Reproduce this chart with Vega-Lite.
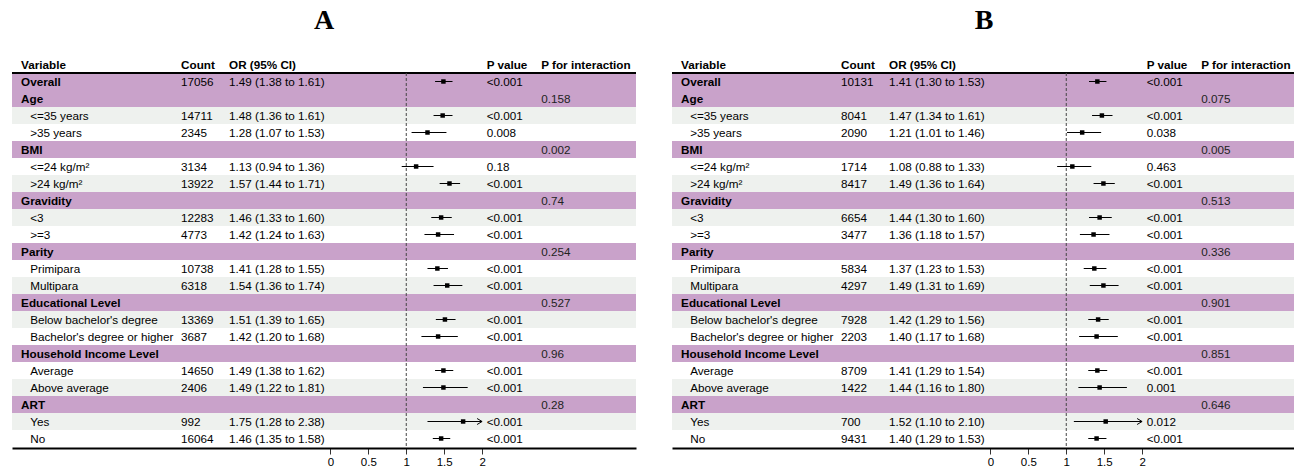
{
  "$schema": "https://vega.github.io/schema/vega-lite/v6.json",
  "padding": {"left": 11, "top": 7, "right": 0, "bottom": 0},
  "config": {
    "view": {"stroke": null},
    "font": "Liberation Sans",
    "text": {"font": "Liberation Sans", "fontSize": 11.7, "color": "black", "align": "left", "baseline": "middle"}
  },
  "data": {
    "values": [
      {"panel": "A", "label": "Overall", "kind": "group", "n": 17056, "or": 1.49, "lo": 1.38, "hi": 1.61, "orci": "1.49 (1.38 to 1.61)", "p": "<0.001", "pint": ""},
      {"panel": "A", "label": "Age", "kind": "group", "pint": "0.158"},
      {"panel": "A", "label": "<=35 years", "kind": "item", "n": 14711, "or": 1.48, "lo": 1.36, "hi": 1.61, "orci": "1.48 (1.36 to 1.61)", "p": "<0.001"},
      {"panel": "A", "label": ">35 years", "kind": "item", "n": 2345, "or": 1.28, "lo": 1.07, "hi": 1.53, "orci": "1.28 (1.07 to 1.53)", "p": "0.008"},
      {"panel": "A", "label": "BMI", "kind": "group", "pint": "0.002"},
      {"panel": "A", "label": "<=24 kg/m²", "kind": "item", "n": 3134, "or": 1.13, "lo": 0.94, "hi": 1.36, "orci": "1.13 (0.94 to 1.36)", "p": "0.18"},
      {"panel": "A", "label": ">24 kg/m²", "kind": "item", "n": 13922, "or": 1.57, "lo": 1.44, "hi": 1.71, "orci": "1.57 (1.44 to 1.71)", "p": "<0.001"},
      {"panel": "A", "label": "Gravidity", "kind": "group", "pint": "0.74"},
      {"panel": "A", "label": "<3", "kind": "item", "n": 12283, "or": 1.46, "lo": 1.33, "hi": 1.60, "orci": "1.46 (1.33 to 1.60)", "p": "<0.001"},
      {"panel": "A", "label": ">=3", "kind": "item", "n": 4773, "or": 1.42, "lo": 1.24, "hi": 1.63, "orci": "1.42 (1.24 to 1.63)", "p": "<0.001"},
      {"panel": "A", "label": "Parity", "kind": "group", "pint": "0.254"},
      {"panel": "A", "label": "Primipara", "kind": "item", "n": 10738, "or": 1.41, "lo": 1.28, "hi": 1.55, "orci": "1.41 (1.28 to 1.55)", "p": "<0.001"},
      {"panel": "A", "label": "Multipara", "kind": "item", "n": 6318, "or": 1.54, "lo": 1.36, "hi": 1.74, "orci": "1.54 (1.36 to 1.74)", "p": "<0.001"},
      {"panel": "A", "label": "Educational Level", "kind": "group", "pint": "0.527"},
      {"panel": "A", "label": "Below bachelor's degree", "kind": "item", "n": 13369, "or": 1.51, "lo": 1.39, "hi": 1.65, "orci": "1.51 (1.39 to 1.65)", "p": "<0.001"},
      {"panel": "A", "label": "Bachelor's degree or higher", "kind": "item", "n": 3687, "or": 1.42, "lo": 1.20, "hi": 1.68, "orci": "1.42 (1.20 to 1.68)", "p": "<0.001"},
      {"panel": "A", "label": "Household Income Level", "kind": "group", "pint": "0.96"},
      {"panel": "A", "label": "Average", "kind": "item", "n": 14650, "or": 1.49, "lo": 1.38, "hi": 1.62, "orci": "1.49 (1.38 to 1.62)", "p": "<0.001"},
      {"panel": "A", "label": "Above average", "kind": "item", "n": 2406, "or": 1.49, "lo": 1.22, "hi": 1.81, "orci": "1.49 (1.22 to 1.81)", "p": "<0.001"},
      {"panel": "A", "label": "ART", "kind": "group", "pint": "0.28"},
      {"panel": "A", "label": "Yes", "kind": "item", "n": 992, "or": 1.75, "lo": 1.28, "hi": 2.38, "orci": "1.75 (1.28 to 2.38)", "p": "<0.001"},
      {"panel": "A", "label": "No", "kind": "item", "n": 16064, "or": 1.46, "lo": 1.35, "hi": 1.58, "orci": "1.46 (1.35 to 1.58)", "p": "<0.001"},

      {"panel": "B", "label": "Overall", "kind": "group", "n": 10131, "or": 1.41, "lo": 1.30, "hi": 1.53, "orci": "1.41 (1.30 to 1.53)", "p": "<0.001", "pint": ""},
      {"panel": "B", "label": "Age", "kind": "group", "pint": "0.075"},
      {"panel": "B", "label": "<=35 years", "kind": "item", "n": 8041, "or": 1.47, "lo": 1.34, "hi": 1.61, "orci": "1.47 (1.34 to 1.61)", "p": "<0.001"},
      {"panel": "B", "label": ">35 years", "kind": "item", "n": 2090, "or": 1.21, "lo": 1.01, "hi": 1.46, "orci": "1.21 (1.01 to 1.46)", "p": "0.038"},
      {"panel": "B", "label": "BMI", "kind": "group", "pint": "0.005"},
      {"panel": "B", "label": "<=24 kg/m²", "kind": "item", "n": 1714, "or": 1.08, "lo": 0.88, "hi": 1.33, "orci": "1.08 (0.88 to 1.33)", "p": "0.463"},
      {"panel": "B", "label": ">24 kg/m²", "kind": "item", "n": 8417, "or": 1.49, "lo": 1.36, "hi": 1.64, "orci": "1.49 (1.36 to 1.64)", "p": "<0.001"},
      {"panel": "B", "label": "Gravidity", "kind": "group", "pint": "0.513"},
      {"panel": "B", "label": "<3", "kind": "item", "n": 6654, "or": 1.44, "lo": 1.30, "hi": 1.60, "orci": "1.44 (1.30 to 1.60)", "p": "<0.001"},
      {"panel": "B", "label": ">=3", "kind": "item", "n": 3477, "or": 1.36, "lo": 1.18, "hi": 1.57, "orci": "1.36 (1.18 to 1.57)", "p": "<0.001"},
      {"panel": "B", "label": "Parity", "kind": "group", "pint": "0.336"},
      {"panel": "B", "label": "Primipara", "kind": "item", "n": 5834, "or": 1.37, "lo": 1.23, "hi": 1.53, "orci": "1.37 (1.23 to 1.53)", "p": "<0.001"},
      {"panel": "B", "label": "Multipara", "kind": "item", "n": 4297, "or": 1.49, "lo": 1.31, "hi": 1.69, "orci": "1.49 (1.31 to 1.69)", "p": "<0.001"},
      {"panel": "B", "label": "Educational Level", "kind": "group", "pint": "0.901"},
      {"panel": "B", "label": "Below bachelor's degree", "kind": "item", "n": 7928, "or": 1.42, "lo": 1.29, "hi": 1.56, "orci": "1.42 (1.29 to 1.56)", "p": "<0.001"},
      {"panel": "B", "label": "Bachelor's degree or higher", "kind": "item", "n": 2203, "or": 1.40, "lo": 1.17, "hi": 1.68, "orci": "1.40 (1.17 to 1.68)", "p": "<0.001"},
      {"panel": "B", "label": "Household Income Level", "kind": "group", "pint": "0.851"},
      {"panel": "B", "label": "Average", "kind": "item", "n": 8709, "or": 1.41, "lo": 1.29, "hi": 1.54, "orci": "1.41 (1.29 to 1.54)", "p": "<0.001"},
      {"panel": "B", "label": "Above average", "kind": "item", "n": 1422, "or": 1.44, "lo": 1.16, "hi": 1.80, "orci": "1.44 (1.16 to 1.80)", "p": "0.001"},
      {"panel": "B", "label": "ART", "kind": "group", "pint": "0.646"},
      {"panel": "B", "label": "Yes", "kind": "item", "n": 700, "or": 1.52, "lo": 1.10, "hi": 2.10, "orci": "1.52 (1.10 to 2.10)", "p": "0.012"},
      {"panel": "B", "label": "No", "kind": "item", "n": 9431, "or": 1.40, "lo": 1.29, "hi": 1.53, "orci": "1.40 (1.29 to 1.53)", "p": "<0.001"}
    ]
  },
  "transform": [
    {"window": [{"op": "row_number", "as": "row"}], "groupby": ["panel"]}
  ],
  "facet": {
    "column": {
      "field": "panel",
      "type": "nominal",
      "title": null,
      "header": {
        "labelFont": "Liberation Serif",
        "labelFontSize": 28,
        "labelFontWeight": "bold",
        "labelColor": "black",
        "labelPadding": 21
      }
    }
  },
  "spacing": 34,
  "resolve": {"scale": {"x": "shared", "y": "shared"}},
  "spec": {
    "width": 624,
    "height": 391,
    "layer": [
      {
        "mark": {"type": "rect"},
        "encoding": {
          "y": {"field": "row", "type": "ordinal", "scale": {"domain": [0, 1, 2, 3, 4, 5, 6, 7, 8, 9, 10, 11, 12, 13, 14, 15, 16, 17, 18, 19, 20, 21, 22], "paddingInner": 0, "paddingOuter": 0}, "axis": null},
          "fill": {
            "condition": [
              {"test": "datum.kind == 'group'", "value": "#C9A2CA"},
              {"test": "datum.row % 2 == 1", "value": "#EEF1EE"}
            ],
            "value": "#FFFFFF"
          }
        }
      },
      {
        "transform": [{"filter": "datum.row == 1"}],
        "layer": [
          {"mark": {"type": "text", "text": "Variable", "fontWeight": "bold"}, "encoding": {"x": {"datum": -4.08}, "y": {"datum": 0, "type": "ordinal"}}},
          {"mark": {"type": "text", "text": "Count", "fontWeight": "bold"}, "encoding": {"x": {"datum": -1.97}, "y": {"datum": 0, "type": "ordinal"}}},
          {"mark": {"type": "text", "text": "OR (95% CI)", "fontWeight": "bold"}, "encoding": {"x": {"datum": -1.337}, "y": {"datum": 0, "type": "ordinal"}}},
          {"mark": {"type": "text", "text": "P value", "fontWeight": "bold"}, "encoding": {"x": {"datum": 2.06}, "y": {"datum": 0, "type": "ordinal"}}},
          {"mark": {"type": "text", "text": "P for interaction", "fontWeight": "bold"}, "encoding": {"x": {"datum": 2.78}, "y": {"datum": 0, "type": "ordinal"}}},
          {"mark": {"type": "rule", "color": "black", "strokeWidth": 2}, "encoding": {"y": {"datum": 1, "type": "ordinal", "bandPosition": 0}}}
        ]
      },
      {
        "transform": [{"filter": "datum.kind == 'group'"}],
        "mark": {"type": "text", "fontWeight": "bold"},
        "encoding": {"x": {"datum": -4.08}, "y": {"field": "row", "type": "ordinal"}, "text": {"field": "label"}}
      },
      {
        "transform": [{"filter": "datum.kind == 'item'"}],
        "mark": {"type": "text"},
        "encoding": {"x": {"datum": -3.96}, "y": {"field": "row", "type": "ordinal"}, "text": {"field": "label"}}
      },
      {
        "transform": [{"filter": "isValid(datum.n)"}],
        "mark": {"type": "text"},
        "encoding": {"x": {"datum": -1.97}, "y": {"field": "row", "type": "ordinal"}, "text": {"field": "n", "type": "quantitative", "format": "d"}}
      },
      {
        "transform": [{"filter": "isValid(datum.orci)"}],
        "mark": {"type": "text"},
        "encoding": {"x": {"datum": -1.337}, "y": {"field": "row", "type": "ordinal"}, "text": {"field": "orci"}}
      },
      {
        "transform": [{"filter": "isValid(datum.p)"}],
        "mark": {"type": "text"},
        "encoding": {"x": {"datum": 2.06}, "y": {"field": "row", "type": "ordinal"}, "text": {"field": "p"}}
      },
      {
        "transform": [{"filter": "isValid(datum.pint) && datum.pint != ''"}],
        "mark": {"type": "text", "color": "#222222"},
        "encoding": {"x": {"datum": 2.78}, "y": {"field": "row", "type": "ordinal"}, "text": {"field": "pint"}}
      },
      {
        "transform": [{"filter": "datum.row == 1"}],
        "mark": {"type": "rule", "color": "#444444", "strokeWidth": 1, "strokeDash": [3, 2]},
        "encoding": {
          "x": {"datum": 1},
          "y": {"datum": 1, "type": "ordinal", "bandPosition": 0},
          "y2": {"datum": 22, "bandPosition": 1}
        }
      },
      {
        "transform": [{"filter": "isValid(datum.hi) && datum.hi <= 2"}],
        "mark": {"type": "rule", "color": "black", "strokeWidth": 1},
        "encoding": {
          "x": {
            "field": "lo",
            "type": "quantitative",
            "scale": {"domain": [-4.2, 4.03], "nice": false, "zero": false},
            "axis": {
              "title": null,
              "values": [0, 0.5, 1, 1.5, 2],
              "format": "~g",
              "grid": false,
              "domain": true,
              "domainColor": "black",
              "domainWidth": 2,
              "tickColor": "#333333",
              "tickSize": 6,
              "labelFont": "Liberation Sans",
              "labelFontSize": 11.5,
              "labelColor": "black",
              "labelPadding": 2
            }
          },
          "x2": {"field": "hi"},
          "y": {"field": "row", "type": "ordinal"}
        }
      },
      {
        "transform": [{"filter": "isValid(datum.hi) && datum.hi > 2"}],
        "mark": {"type": "rule", "color": "black", "strokeWidth": 1},
        "encoding": {
          "x": {"field": "lo", "type": "quantitative", "axis": {"title": null}},
          "x2": {"datum": 2},
          "y": {"field": "row", "type": "ordinal"}
        }
      },
      {
        "transform": [{"filter": "isValid(datum.hi) && datum.hi > 2"}],
        "mark": {"type": "point", "shape": "M-1,-0.6L0,0L-1,0.6", "filled": false, "stroke": "black", "strokeWidth": 1, "size": 100, "opacity": 1},
        "encoding": {
          "x": {"datum": 2},
          "y": {"field": "row", "type": "ordinal"}
        }
      },
      {
        "transform": [{"filter": "isValid(datum.or)"}],
        "mark": {"type": "point", "shape": "square", "filled": true, "color": "black", "size": 20, "opacity": 1},
        "encoding": {
          "x": {"field": "or", "type": "quantitative", "axis": {"title": null}},
          "y": {"field": "row", "type": "ordinal"}
        }
      }
    ]
  }
}
